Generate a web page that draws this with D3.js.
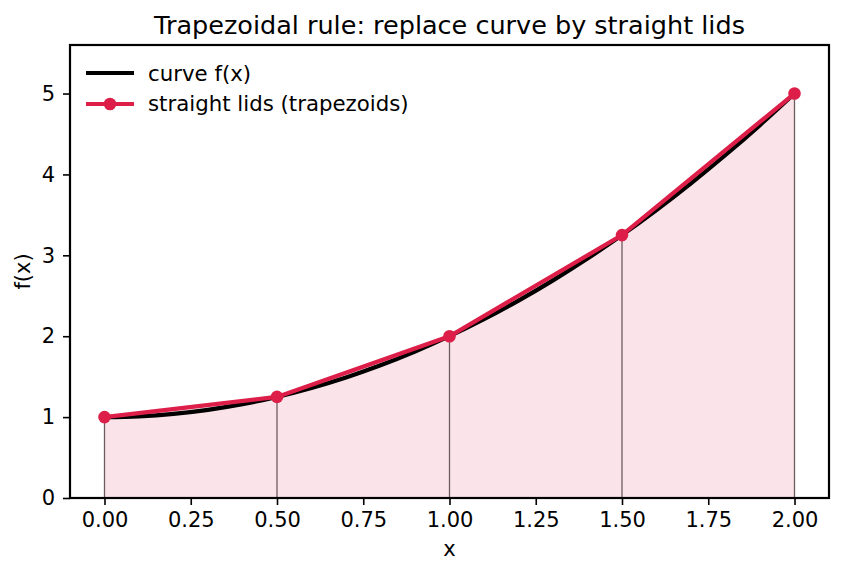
<!DOCTYPE html>
<html>
<head>
<meta charset="utf-8">
<script src="https://cdn.jsdelivr.net/npm/d3@7"></script>
<style>
  body { margin: 0; background: #fff; }
  text { font-family: "DejaVu Sans", sans-serif; fill: #000; }
</style>
</head>
<body>
<svg id="chart" width="842" height="573"></svg>
<script>
// sample points of the curve
var curveX = [0, 0.1, 0.2, 0.3, 0.4, 0.5, 0.6, 0.7, 0.8, 0.9, 1.0, 1.1, 1.2, 1.3, 1.4, 1.5, 1.6, 1.7, 1.8, 1.9, 2.0];
var curveY = [1, 1.01, 1.04, 1.09, 1.16, 1.25, 1.36, 1.49, 1.64, 1.81, 2.0, 2.21, 2.44, 2.69, 2.96, 3.25, 3.56, 3.89, 4.24, 4.61, 5.0];
// trapezoid nodes
var nodeX = [0, 0.5, 1.0, 1.5, 2.0];
var nodeY = [1, 1.25, 2.0, 3.25, 5.0];
var xTicks = [0, 0.25, 0.5, 0.75, 1.0, 1.25, 1.5, 1.75, 2.0];
var yTicks = [0, 1, 2, 3, 4, 5];

var lidColor = '#dc1e48';
var svg = d3.select('#chart');
var m = {left: 70, right: 829, top: 45, bottom: 498};

var x = d3.scaleLinear().domain([-0.1, 2.1]).range([m.left, m.right]);
var y = d3.scaleLinear().domain([0, 5.6]).range([m.bottom, m.top]);

var nodes = nodeX.map(function (d, i) { return {x: d, y: nodeY[i]}; });
var pts = curveX.map(function (d, i) { return {x: d, y: curveY[i]}; });

// shaded trapezoids
svg.append('path')
    .datum(nodes)
    .attr('d', d3.area().x(function (d) { return x(d.x); }).y0(y(0)).y1(function (d) { return y(d.y); }))
    .style('fill', lidColor)
    .style('fill-opacity', 0.12)
    .style('stroke', 'none');

// vertical sides
svg.append('g').selectAll('line')
    .data(nodes)
    .enter().append('line')
    .attr('x1', function (d) { return x(d.x); })
    .attr('x2', function (d) { return x(d.x); })
    .attr('y1', y(0))
    .attr('y2', function (d) { return y(d.y); })
    .style('stroke', '#6b5b5f')
    .style('stroke-width', 1.3);

// the curve
svg.append('path')
    .datum(pts)
    .attr('d', d3.line().x(function (d) { return x(d.x); }).y(function (d) { return y(d.y); }).curve(d3.curveMonotoneX))
    .style('fill', 'none')
    .style('stroke', '#000')
    .style('stroke-width', 4.2);

// straight lids
svg.append('path')
    .datum(nodes)
    .attr('d', d3.line().x(function (d) { return x(d.x); }).y(function (d) { return y(d.y); }))
    .style('fill', 'none')
    .style('stroke', lidColor)
    .style('stroke-width', 4.2);

svg.append('g').selectAll('circle')
    .data(nodes)
    .enter().append('circle')
    .attr('cx', function (d) { return x(d.x); })
    .attr('cy', function (d) { return y(d.y); })
    .attr('r', 6.3)
    .style('fill', lidColor);

// axes
var xAxis = svg.append('g').attr('transform', 'translate(0,' + m.bottom + ')')
    .call(d3.axisBottom(x).tickValues(xTicks).tickFormat(d3.format('.2f')).tickSize(7).tickPadding(7));
var yAxis = svg.append('g').attr('transform', 'translate(' + m.left + ',0)')
    .call(d3.axisLeft(y).tickValues(yTicks).tickFormat(d3.format('d')).tickSize(7).tickPadding(8));
[xAxis, yAxis].forEach(function (g) {
    g.select('.domain').remove();
    g.selectAll('.tick line').style('stroke', '#000').style('stroke-width', 1.6);
    g.selectAll('.tick text').style('font-size', '21px').style('font-family', '"DejaVu Sans", sans-serif');
});

svg.append('rect')
    .attr('x', m.left).attr('y', m.top)
    .attr('width', m.right - m.left).attr('height', m.bottom - m.top)
    .style('fill', 'none').style('stroke', '#000').style('stroke-width', 2.2);

// labels
svg.append('text').attr('x', (m.left + m.right) / 2).attr('y', 34)
    .attr('text-anchor', 'middle').style('font-size', '25.5px')
    .text('Trapezoidal rule: replace curve by straight lids');
svg.append('text').attr('x', (m.left + m.right) / 2).attr('y', 556)
    .attr('text-anchor', 'middle').style('font-size', '21px').text('x');
svg.append('text').attr('transform', 'translate(30,' + (m.top + m.bottom) / 2 + ') rotate(-90)')
    .attr('text-anchor', 'middle').style('font-size', '21px').text('f(x)');

// legend
var legend = svg.append('g');
legend.append('line').attr('x1', 86).attr('x2', 134).attr('y1', 73).attr('y2', 73)
    .style('stroke', '#000').style('stroke-width', 4.2);
legend.append('text').attr('x', 148).attr('y', 80.5).style('font-size', '21.3px').text('curve f(x)');
legend.append('line').attr('x1', 86).attr('x2', 134).attr('y1', 104).attr('y2', 104)
    .style('stroke', lidColor).style('stroke-width', 4.2);
legend.append('circle').attr('cx', 110).attr('cy', 104).attr('r', 6.3).style('fill', lidColor);
legend.append('text').attr('x', 148).attr('y', 111).style('font-size', '21.3px').text('straight lids (trapezoids)');
</script>
</body>
</html>
